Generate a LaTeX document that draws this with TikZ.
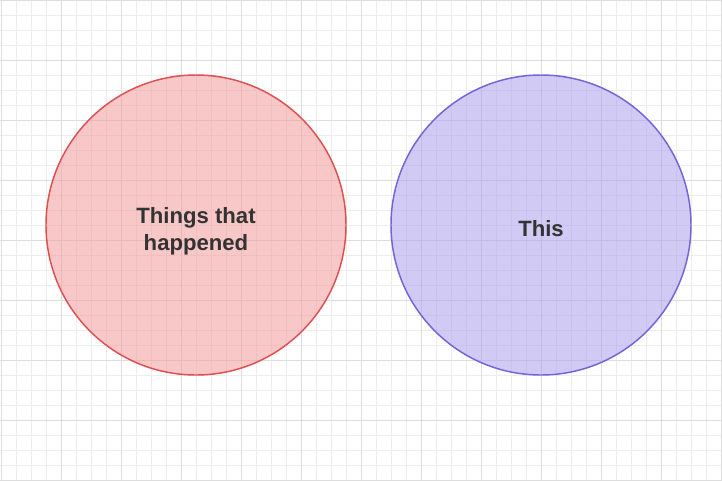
\documentclass[tikz,border=0pt]{standalone}
\usepackage{fontspec}
\setmainfont{Liberation Sans}
\usepackage{tikz}
\usepackage{xcolor}
\usetikzlibrary{positioning}
\definecolor{gridminor}{HTML}{EDEDED}
\definecolor{gridmajor}{HTML}{DDDDDD}
\definecolor{redfill}{HTML}{F19C99}
\definecolor{reddraw}{HTML}{DC5052}
\definecolor{bluefill}{HTML}{ACA0EE}
\definecolor{bluedraw}{HTML}{7563D8}
\definecolor{labeltext}{HTML}{333333}
\tikzset{set/.style={circle,minimum size=225pt,inner sep=0pt,line width=1.1pt,fill opacity=0.55},
    setlabel/.style={font=\fontsize{16.6}{20}\selectfont\bfseries,text=labeltext,align=center,inner sep=0pt}}

\begin{document}
\begin{tikzpicture}[x=0.75pt,y=-0.75pt]
      \fill[white] (0,0) rectangle (722,480);
      \useasboundingbox (0,0) rectangle (722,480);
      \foreach \i in {0,...,48} \draw[gridminor,line width=0.6pt] (1+15*\i,0) -- (1+15*\i,480);
      \foreach \j in {0,...,32} \draw[gridminor,line width=0.6pt] (0,15*\j) -- (722,15*\j);
      \foreach \i in {0,...,12} \draw[gridmajor,line width=0.6pt] (1+60*\i,0) -- (1+60*\i,480);
      \foreach \j in {0,...,8} \draw[gridmajor,line width=0.6pt] (0,60*\j) -- (722,60*\j);

      \node[set,draw=reddraw,fill=redfill] (happened) at (196,225) {};
      \node[set,draw=bluedraw,fill=bluefill] (this) at (541,225) {};
      \node[setlabel] (happenedtext) at ([yshift=-4.5pt]happened.center) {Things that\\happened};
      \node[setlabel] (thistext) at ([yshift=-3pt]this.center) {This};
  \end{tikzpicture}
\end{document}
